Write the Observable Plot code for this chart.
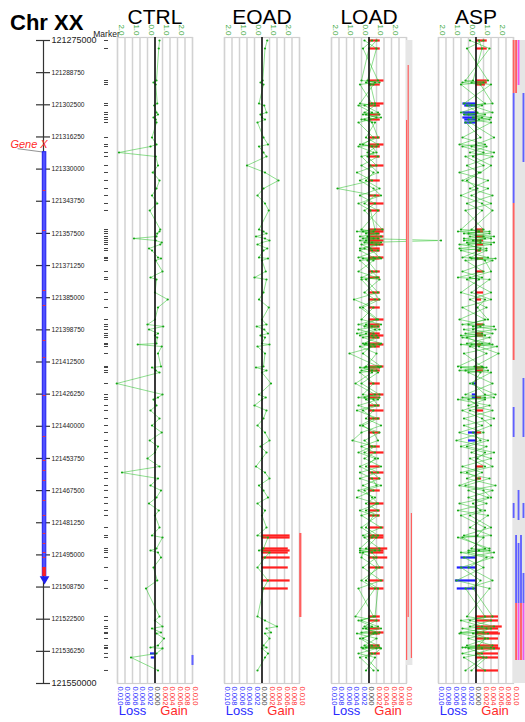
<!DOCTYPE html>
<html><head><meta charset="utf-8">
<script src="https://cdn.jsdelivr.net/npm/d3@7"></script>
<script src="https://cdn.jsdelivr.net/npm/@observablehq/plot@0.6"></script>
<style>
body{margin:0;background:#fff;}
#chart{position:relative;width:525px;height:722px;overflow:hidden;font-family:"Liberation Sans",Arial,Helvetica,sans-serif;}
#title{position:absolute;left:10px;top:12px;font-weight:bold;font-size:22px;line-height:1;}
</style></head><body>
<div id="chart"><div id="title">Chr XX</div></div>
<script>
const chromStart = 121275000, chromEnd = 121550000;
const axisTicks = d3.range(0, 21).map(i => chromStart + i * 13750);

const markerPos = [121275000,121278420,121292110,121292960,121293820,121301940,121302800,121305790,121306650,121307930,
121308790,121310070,121316480,121319480,121320330,121322900,121324610,121328460,121331450,121334870,
121338300,121341290,121344710,121347700,121355830,121356690,121357540,121358820,121359680,121360530,
121361390,121362250,121363960,121364810,121367800,121368230,121369090,121373790,121376360,121377210,
121382770,121385770,121389190,121394320,121396460,121397310,121398600,121400310,121401160,121402020,
121404590,121405010,121405870,121408860,121414420,121414850,121416130,121416990,121421690,121426400,
121427680,121428540,121431100,121433240,121436660,121439660,121442650,121446070,121448640,121451200,
121453770,121457190,121459760,121462320,121465320,121467450,121470450,121473010,121476010,121478140,
121483280,121486700,121487550,121492260,121493110,121493970,121496110,121500380,121505940,121509360,
121521340,121523050,121525620,121526470,121528180,121528610,121530750,121533740,121534600,121535020,
121537160,121538870,121544430];

// gene
const geneStart = 121322770, geneEnd = 121504230;
const geneBlock = [121500380, 121504230];
const geneArrow = 121505300;
const geneExons = [121339150,121356260,121381920,121388330,121403300,121410570,121426820,121444360,121454620,
121458900,121463170,121471730,121478140,121485840,121490120,121493970,121496110];

// green series (top axis scale)
const ctrlVals = [0.3,0.25,0.1,-0.1,0.05,0.15,-0.05,0.1,0.2,-0.1,
0.05,0.1,-0.2,0.1,-0.3,-2.4,0.05,0.2,-0.15,0.3,
0.1,-0.2,0.15,-0.35,0.35,0.3,0.15,0.1,-1.4,0.05,
0.45,0.35,-0.4,-0.2,0.2,0.4,0.05,0.5,-0.3,0.1,
0.0,0.85,0.2,0.0,-0.5,0.55,-0.4,0.2,0.0,0.15,
0.1,-1.15,0.45,0.2,0.4,-0.2,0.05,0.3,-2.55,0.5,
0.2,-0.1,0.1,-0.3,0.3,-0.2,0.45,-0.35,0.2,0.0,
-0.5,0.3,-2.2,0.2,-0.3,0.4,0.1,-0.4,0.25,0.0,
0.3,-0.2,0.5,0.1,-0.3,0.2,0.4,-0.1,0.15,-0.6,
0.3,0.0,0.5,-0.2,0.4,0.1,0.6,0.2,-0.3,0.5,
0.1,-1.6,0.2];
const eoadVals = [0.35,0.2,0.05,-0.1,0.1,-0.2,0.15,0.3,-0.1,0.0,
0.2,-0.3,0.1,0.4,-0.2,0.1,0.3,-1.0,0.2,1.1,
0.1,-0.3,0.2,0.45,-0.2,0.1,0.3,-0.4,0.2,0.5,
0.0,-0.3,0.35,0.1,-0.2,0.4,0.0,0.25,-0.5,0.3,
0.1,-0.2,0.45,0.0,0.3,-0.35,0.15,0.4,-0.1,0.2,
0.0,0.5,-0.3,0.2,0.1,-0.4,0.3,0.0,0.6,-0.2,
0.25,0.0,-0.5,0.3,0.1,-0.3,0.2,0.5,-0.1,0.3,
0.0,-0.4,0.2,0.5,-0.2,0.1,0.4,-0.3,0.2,0.0,
0.3,-0.3,0.4,0.1,-0.2,0.5,0.2,-0.3,0.4,0.1,
-0.3,0.2,1.0,0.3,0.6,0.2,0.5,0.1,0.3,0.0,
0.4,0.2,-0.3];
const loadValsA = [0.2,-0.4,0.6,-0.2,0.3,-0.6,0.4,-0.3,0.7,0.0,
-0.5,0.4,-0.2,0.6,-0.7,0.3,-0.1,0.5,-0.8,0.2,
-2.1,0.4,-0.3,0.6,-0.5,0.3,-0.2,0.8,-0.4,4.8,
-0.3,0.5,-0.6,0.2,0.7,-0.4,0.3,-0.7,0.5,-0.2,
0.6,-1.0,0.3,-0.5,0.8,-0.3,0.4,-0.8,0.2,0.6,
-0.4,0.3,-0.6,0.5,-0.2,0.7,-0.5,0.2,-0.9,0.4,
-0.3,0.6,-0.7,0.3,-0.2,0.8,-0.5,-1.1,0.4,-0.3,
0.6,-0.6,0.2,0.7,-0.4,0.3,-0.8,0.5,-0.2,0.6,
-0.5,0.3,-0.3,0.7,-0.6,0.2,0.5,-0.4,0.8,-0.7,
0.3,-0.5,0.6,-0.2,0.4,-0.8,0.5,-0.3,0.7,-0.4,
0.2,-0.6,0.3];
const loadValsB = [-0.3,0.5,-0.1,0.4,-0.6,0.2,-0.3,0.6,-0.2,0.5,
0.1,-0.7,0.3,-0.4,0.5,-0.1,0.6,-0.5,0.3,-0.2,
0.7,-0.6,0.4,-0.3,0.9,-0.4,0.6,-0.6,0.3,-0.2,
0.8,-0.5,0.1,0.6,-0.7,0.4,-0.1,0.5,-0.5,0.7,
-0.3,0.4,-0.6,0.5,-0.2,0.6,-0.7,0.3,0.5,-0.4,
0.8,-0.3,0.4,-1.3,0.6,-0.3,0.5,-0.6,0.3,-0.4,
0.7,-0.2,0.4,-0.8,0.6,-0.4,0.3,0.6,-0.5,0.4,
-0.3,0.8,-0.6,0.2,0.5,-0.7,0.4,-0.2,0.6,-0.5,
0.8,-0.4,0.5,-0.2,0.4,-0.6,0.3,0.7,-0.5,0.4,
-0.9,0.5,-0.3,0.8,-0.5,0.3,-0.4,0.6,-0.2,0.5,
-0.7,0.4,-0.2];
const loadValsC = [0.5,0.0,-0.5,0.7,0.1,0.4,-0.7,0.2,-0.4,0.8,
-0.3,0.2,0.6,-0.6,0.2,0.5,-0.5,0.1,0.6,-0.6,
0.3,0.8,-0.7,0.1,0.4,-0.8,0.5,-0.1,0.6,-0.6,
0.2,0.7,-0.3,-0.6,0.3,0.8,-0.6,0.2,0.6,-0.5,
0.3,0.7,-0.4,0.6,-0.7,0.2,0.7,-0.2,-0.6,0.3,
-0.2,0.7,0.1,-0.4,0.8,-0.6,0.2,0.6,-0.5,0.7,
-0.7,0.3,0.6,-0.4,0.3,-0.6,0.7,-0.3,0.2,-0.7,
0.4,-0.2,0.6,-0.6,0.8,-0.3,0.2,0.6,-0.6,0.3,
-0.2,0.6,0.2,-0.6,0.7,-0.4,-0.5,0.5,-0.2,0.6,
0.4,-0.7,0.2,-0.4,0.7,0.5,-0.6,0.2,-0.5,0.8,
0.4,-0.2,0.6];
const aspValsA = [0.5,-0.6,0.8,-0.3,1.0,-0.8,0.4,-1.0,0.6,-0.2,
0.9,-0.7,0.3,-1.1,0.7,-0.4,1.1,-0.6,0.2,-0.9,
0.8,-0.3,1.0,-0.7,0.5,-1.2,0.9,-0.4,0.6,-0.8,
1.2,-0.5,0.3,-1.0,0.8,-0.3,1.1,-0.9,0.4,-0.6,
1.0,-0.4,0.7,-1.1,0.5,-0.2,1.3,-0.7,0.6,-0.9,
0.9,-0.3,1.4,-0.8,0.4,-1.0,0.8,-0.5,1.1,-0.7,
0.6,-1.2,0.9,-0.4,1.2,-0.8,0.5,-1.3,0.7,-0.3,
1.0,-0.9,0.4,-0.6,1.3,-0.5,0.8,-1.1,0.6,-0.4,
1.0,-0.8,0.5,-0.3,0.9,-1.0,0.7,-0.5,1.1,-0.7,
0.6,-0.4,1.2,-0.9,0.5,-0.2,0.8,-0.6,1.0,-0.5,
0.4,-0.8,0.6];
const aspValsB = [-0.4,0.9,-0.7,0.5,-1.0,0.6,-0.3,1.1,-0.8,0.4,
-0.5,1.0,-0.9,0.6,-0.3,1.2,-0.7,0.5,-1.1,0.8,
-0.4,1.1,-0.6,0.4,-1.0,0.9,-0.5,1.2,-0.8,0.3,
-0.6,1.0,-1.1,0.7,-0.4,1.3,-0.7,0.5,-1.2,0.9,
-0.3,1.0,-0.9,0.6,-0.5,1.2,-0.8,0.4,-1.0,0.9,
-0.6,1.1,-0.4,0.7,-1.2,0.5,-0.7,1.0,-0.4,1.3,
-0.9,0.6,-0.5,1.1,-0.8,0.4,-1.1,0.8,-0.6,1.2,
-0.4,0.6,-1.0,0.9,-0.7,1.1,-0.5,0.7,-1.2,0.8,
-0.4,1.0,-0.9,0.6,-0.5,1.2,-0.8,0.5,-1.3,0.9,
-0.6,1.0,-0.4,0.7,-1.0,0.8,-0.5,1.1,-0.7,0.4,
-0.9,0.7,-0.3];
const aspValsC = [0.2,0.4,-0.2,-0.9,0.3,1.1,-0.6,0.1,-0.5,1.0,
0.2,-0.4,1.2,0.0,-0.9,0.5,-0.2,1.0,0.3,-0.6,
0.1,-1.0,0.4,1.1,-0.3,0.2,-0.8,0.5,1.0,-0.2,
0.3,-1.1,0.7,0.2,-0.9,0.1,0.6,1.0,-0.4,0.2,
-1.0,0.6,0.1,0.8,-0.9,0.3,-0.2,1.1,0.0,-0.6,
0.4,-1.0,0.2,1.5,-0.1,0.7,-1.1,0.3,-0.2,0.6,
1.2,-0.5,0.1,-0.9,0.4,1.0,-0.2,0.3,-1.0,0.6,
0.1,1.1,-0.6,0.2,-1.1,0.5,1.0,-0.2,0.3,-1.0,
0.6,0.1,-1.2,0.9,0.2,-0.5,1.1,-1.0,0.3,-0.2,
1.1,-1.0,0.4,1.0,0.1,-1.1,0.6,0.2,-0.9,1.2,
0.0,0.5,-0.7];

// gain / loss bars: [marker index, frequency]
const ctrlLoss = [[100,0.0012],[101,0.001]];
const eoadGain = [[81,0.0075],[82,0.0075],[83,0.007],[84,0.0075],[85,0.007],[86,0.0075],[87,0.007],[88,0.0075],[89,0.007]];
const loadGain = [[0,0.003],[1,0.003],[2,0.004],[4,0.003],[5,0.004],[6,0.003],[8,0.003],[10,0.003],[12,0.003],[13,0.004],
[14,0.003],[16,0.003],[17,0.004],[19,0.003],[21,0.003],[22,0.004],[23,0.003],[24,0.004],[25,0.004],[26,0.003],
[27,0.004],[28,0.003],[29,0.004],[30,0.003],[31,0.004],[32,0.003],[33,0.003],[34,0.004],[35,0.003],[37,0.003],
[38,0.003],[40,0.003],[41,0.003],[42,0.003],[43,0.004],[44,0.003],[45,0.003],[47,0.003],[48,0.004],[49,0.003],
[50,0.003],[51,0.004],[52,0.003],[54,0.004],[55,0.003],[56,0.003],[58,0.003],[59,0.004],[60,0.003],[62,0.003],
[63,0.004],[64,0.003],[66,0.003],[68,0.003],[69,0.004],[71,0.003],[72,0.004],[73,0.003],[75,0.003],[77,0.004],
[78,0.003],[79,0.003],[80,0.004],[81,0.004],[82,0.004],[83,0.005],[84,0.004],[85,0.004],[86,0.005],[87,0.004],
[88,0.004],[89,0.004],[90,0.003],[91,0.003],[93,0.003],[94,0.004],[95,0.003],[97,0.003],[98,0.003],[100,0.003]];
const aspGain = [[0,0.003],[1,0.003],[2,0.003],[3,0.003],[4,0.0025],[24,0.002],[25,0.002],[27,0.002],[29,0.002],[31,0.002],
[33,0.0015],[35,0.002],[37,0.002],[40,0.002],[41,0.0015],[44,0.002],[47,0.002],[48,0.002],[51,0.0015],[55,0.002],
[56,0.002],[60,0.0015],[63,0.002],[66,0.0015],[71,0.002],[73,0.0015],[90,0.006],[91,0.006],[92,0.007],[93,0.006],
[94,0.006],[95,0.0065],[96,0.006],[97,0.006],[98,0.006],[99,0.0065],[100,0.006],[101,0.006],[102,0.006]];
const aspLoss = [[5,0.0035],[6,0.003],[7,0.0035],[8,0.003],[9,0.0035],[10,0.003],[11,0.003],[58,0.001],[59,0.001],[60,0.001],
[66,0.002],[67,0.002],[86,0.004],[87,0.005],[88,0.0055],[89,0.005]];

// segment strips: [track, start, end, kind]
const ctrlStrip = [[0,121538020,121542290,"loss"]];
const eoadStrip = [[0,121485840,121521770,"gain"]];
const loadStrip = [[1,121285690,121521770,"gain"],[0,121309210,121540160,"gain"],[3,121477290,121539300,"gain"]];
const aspStrip = [[0,121275000,121297670,"gain"],[1,121275000,121297670,"gain"],[2,121275000,121294250,"both"],
[0,121297670,121344710,"loss"],[4,121297670,121327180,"loss"],[0,121344710,121411850,"gain"],
[0,121431960,121444790,"loss"],[4,121419550,121444790,"loss"],[2,121467450,121480280,"loss"],
[0,121473010,121479430,"loss"],[4,121473010,121479430,"loss"],[1,121486700,121502950,"loss"],
[3,121486700,121502950,"loss"],[2,121490120,121502950,"loss"],[1,121502950,121515780,"loss"],
[2,121502950,121515780,"loss"],[3,121502950,121515780,"loss"],[4,121502950,121515780,"loss"],
[1,121515780,121540160,"gain"],[2,121515780,121540160,"both"],[3,121515780,121540160,"gain"],[4,121515780,121540160,"both"]];

const panelNames = ["CTRL","EOAD","LOAD","ASP"];
const topTickVals = [-2,-1,0,1,2];
const gridVals = d3.range(-5, 6).map(i => i * 0.5);
const FREQ_K = 250; // 0.010 frequency == 2.5 top units

const FONT = "'Liberation Sans', Arial, Helvetica, sans-serif";
const Y = {domain: [chromStart, chromEnd], range: [40, 683], axis: null};
const chart = document.getElementById("chart");
const place = (left) => ({position: "absolute", left: left + "px", top: "0px", overflow: "visible", background: "none", fontFamily: FONT});
const stripColor = {gain: "#ff6060", loss: "#6060ff", both: "#ee55ee"};

// genome axis + gene
chart.appendChild(Plot.plot({
  width: 130, height: 722, marginLeft: 36, marginRight: 80, marginTop: 37, marginBottom: 39,
  x: {domain: [-1, 1], axis: null}, y: Y, style: place(0),
  marks: [
    Plot.ruleX([0], {y1: chromStart, y2: chromEnd, stroke: "#333", strokeWidth: 1.2}),
    Plot.tickY(axisTicks, {y: d => d, stroke: "#333", strokeWidth: 1.2}),
    Plot.text(axisTicks.filter((d, i) => i > 0 && i < 20), {y: d => d, text: d => String(d), frameAnchor: "right", dx: 1, textAnchor: "start", fontSize: 6.6, fill: "#222"}),
    Plot.text([chromStart, chromEnd], {y: d => d, text: d => String(d), frameAnchor: "right", dx: 1, textAnchor: "start", fontSize: 9, fill: "#222"}),
    Plot.link([geneStart], {x1: -3.7, y1: d => d - 1500, x2: 0.1, y2: d => d, stroke: "#777", strokeWidth: 0.8}),
    Plot.rect([geneStart], {x1: -0.1, x2: 0.4, y1: d => d, y2: geneEnd, fill: "#5050ff", stroke: "#2020ee", strokeWidth: 1}),
    Plot.ruleY(geneExons, {y: d => d, x1: -0.05, x2: 0.35, stroke: "#ff3030", strokeWidth: 1}),
    Plot.rect([geneBlock], {x1: -0.1, x2: 0.4, y1: d => d[0], y2: d => d[1], fill: "#ff2020"}),
    Plot.dot([geneArrow], {x: 0.15, y: d => d, symbol: "triangle", rotate: 180, r: 3.6, fill: "#2020ee"}),
    Plot.text(["Gene X"], {x: 0.6, y: geneStart, dy: -4, lineAnchor: "bottom", textAnchor: "end", fill: "#ff2a2a", fontStyle: "italic", fontSize: 11})
  ]
}));

// marker column
chart.appendChild(Plot.plot({
  width: 30, height: 722, marginLeft: 14, marginRight: 12, marginTop: 37, marginBottom: 39,
  y: Y, style: place(90),
  marks: [
    Plot.tickY(markerPos, {y: d => d, stroke: "#444", strokeWidth: 1}),
    Plot.text(["Marker"], {frameAnchor: "top", dy: -1, lineAnchor: "bottom", fontSize: 8.5, fill: "#222"})
  ]
}));

function panel(name, left, seriesList, gain, loss) {
  const rows = [];
  seriesList.forEach((vals, s) => vals.forEach((v, i) => rows.push({s, pos: markerPos[i], v})));
  const g = gain.map(([i, v]) => ({pos: markerPos[i], v}));
  const l = loss.map(([i, v]) => ({pos: markerPos[i], v}));
  const m = 14;
  return Plot.plot({
    width: 75 + 2 * m, height: 722, marginLeft: m, marginRight: m, marginTop: 37, marginBottom: 39,
    x: {domain: [-2.5, 2.5], axis: null}, y: Y, style: place(left - m),
    marks: [
      Plot.frame({stroke: "#cfcfcf", strokeWidth: 1.2}),
      Plot.ruleX(gridVals, {stroke: "#d2d2d2", strokeWidth: 1.5}),
      Plot.ruleY(g, {y: "pos", x1: 0, x2: d => d.v * FREQ_K, stroke: "#ff2020", strokeWidth: 2.2}),
      Plot.ruleY(l, {y: "pos", x1: 0, x2: d => -d.v * FREQ_K, stroke: "#2020ff", strokeWidth: 2.2}),
      Plot.line(rows, {x: "v", y: "pos", z: "s", stroke: "#2cc42c", strokeWidth: 0.9, strokeOpacity: 0.6}),
      Plot.dot(rows, {x: "v", y: "pos", r: 1.1, fill: "#18a818"}),
      Plot.ruleX([0], {stroke: "#111", strokeWidth: 1.6}),
      Plot.text(topTickVals, {x: d => d, text: d => Math.abs(d).toFixed(1), frameAnchor: "top", dy: -2, rotate: 90, textAnchor: "end", fill: "#3aa83a", fontSize: 8}),
      Plot.text(gridVals, {x: d => d, text: d => (Math.abs(d) / FREQ_K).toFixed(3), frameAnchor: "bottom", dy: 3, rotate: 90, textAnchor: "start", fill: d => d < 0 ? "#2a2aff" : d > 0 ? "#ff2a2a" : "#444444", fontSize: 7.6}),
      Plot.text([name], {x: 0, frameAnchor: "top", dy: -14, lineAnchor: "bottom", fontSize: 21, fill: "#000"}),
      Plot.text(["Loss"], {x: -1.5, frameAnchor: "bottom", dy: 31, fill: "#2a2aff", fontSize: 13}),
      Plot.text(["Gain"], {x: 1.27, frameAnchor: "bottom", dy: 31, fill: "#ff2a2a", fontSize: 13})
    ]
  });
}

function strip(left, w, tracks, segs, bg) {
  const bw = bg ? 0.75 : 1;
  return Plot.plot({
    width: 525, height: 722, marginLeft: 0, marginRight: 0, marginTop: 37, marginBottom: 39,
    x: {domain: [0, tracks], range: [left, left + w], axis: null}, y: Y, style: place(0),
    marks: [
      bg ? Plot.rect([bg], {x1: 0, x2: tracks, y1: d => d[0], y2: d => d[1], fill: "#e6e6e6"}) : null,
      Plot.rect(segs, {x1: d => d[0], x2: d => d[0] + bw, y1: d => d[1], y2: d => d[2], fill: d => stripColor[d[3]]})
    ]
  });
}

chart.appendChild(panel(panelNames[0], 116.7, [ctrlVals], [], ctrlLoss));
chart.appendChild(panel(panelNames[1], 224, [eoadVals], eoadGain, []));
chart.appendChild(panel(panelNames[2], 330.7, [loadValsA, loadValsB, loadValsC], loadGain, []));
chart.appendChild(panel(panelNames[3], 437.7, [aspValsA, aspValsB, aspValsC], aspGain, aspLoss));
chart.appendChild(strip(191.5, 2, 1, ctrlStrip, null));
chart.appendChild(strip(299.2, 2.2, 1, eoadStrip, null));
chart.appendChild(strip(406, 6.4, 4, loadStrip, [chromStart, 121542290]));
chart.appendChild(strip(512.7, 12.3, 5, aspStrip, [chromStart, chromEnd]));
</script>
</body></html>
